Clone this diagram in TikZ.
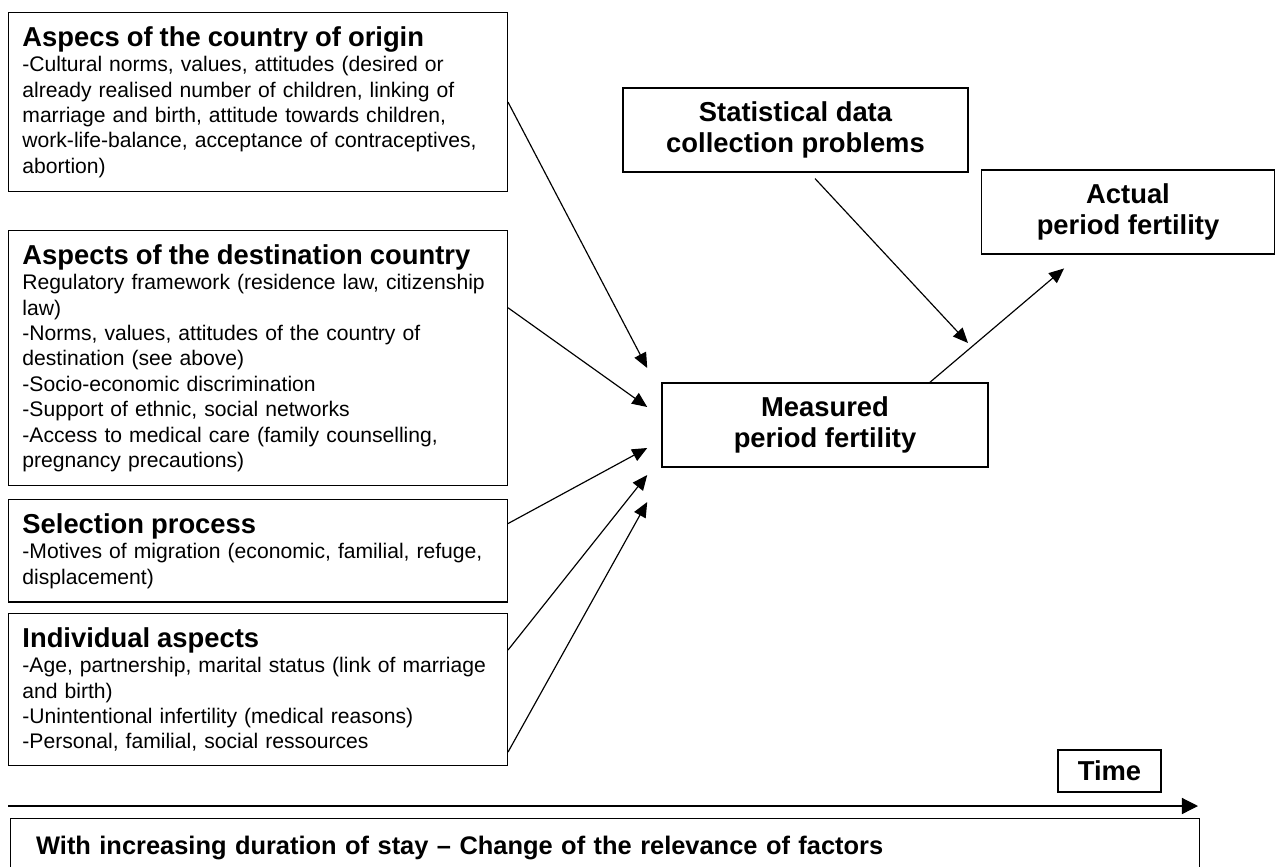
\documentclass[tikz,border=0pt]{standalone}
\usepackage{fontspec}
\setmainfont{Liberation Sans}
\usetikzlibrary{positioning,arrows.meta}

\tikzset{
  factor/.style={draw, line width=0.75pt, anchor=north west, align=left,
    text width=241pt, inner xsep=7pt, inner ysep=7pt,
    font=\fontsize{10.8}{13}\selectfont},
  result/.style={draw, line width=0.75pt, align=center,
    font=\fontsize{14}{16.1}\selectfont\bfseries},
  link/.style={-{Triangle[length=7.7pt,width=6.6pt]}, line width=0.6pt},
}
\newcommand{\factorhead}[1]{{\fontsize{14}{16.1}\selectfont\bfseries #1}\\}

\begin{document}
\begin{tikzpicture}[x=0.5115pt, y=-0.5115pt]
\useasboundingbox (0,0) rectangle (1278,866);
\clip (0,0) rectangle (1278,866);

% factors on the left
\node[factor] (origin) at (8,12) {\factorhead{Aspecs of the country of origin}%
-Cultural norms, values, attitudes (desired or\\
already realised number of children, linking of\\
marriage and birth, attitude towards children,\\
work-life-balance, acceptance of contraceptives,\\
abortion)};
\node[factor] (dest) at (8,230) {\factorhead{Aspects of the destination country}%
Regulatory framework (residence law, citizenship\\
law)\\
-Norms, values, attitudes of the country of\\
destination (see above)\\
-Socio-economic discrimination\\
-Support of ethnic, social networks\\
-Access to medical care (family counselling,\\
pregnancy precautions)};
\node[factor] (select) at (8,499) {\factorhead{Selection process}%
-Motives of migration (economic, familial, refuge,\\
displacement)};
\node[factor] (indiv) at (8,613) {\factorhead{Individual aspects}%
-Age, partnership, marital status (link of marriage\\
and birth)\\
-Unintentional infertility (medical reasons)\\
-Personal, familial, social ressources};

% fertility boxes
\node[result, minimum width=166.8pt, minimum height=43pt] (measured) at (825,425) {Measured\\period fertility};
\node[result, minimum width=176.5pt, minimum height=43pt] (stats) at (795.5,130) {Statistical data\\collection problems};
\node[result, minimum width=150pt, minimum height=43pt] (actual) at (1128,212) {Actual\\period fertility};

% arrow ends
\coordinate (in1) at ([shift={(-14,-57)}]measured.west);
\coordinate (in2) at ([shift={(-14,-18)}]measured.west);
\coordinate (in3) at ([shift={(-14,23)}]measured.west);
\coordinate (in4) at ([shift={(-14,50)}]measured.west);
\coordinate (in5) at ([shift={(-14,77)}]measured.west);
\coordinate (meet) at (968,343);

\draw[link] (origin.east) -- (in1);
\draw[link] ([yshift=25.8pt]dest.east) -- (in2);
\draw[link] ([yshift=14pt]select.east) -- (in3);
\draw[link] ([yshift=20.2pt]indiv.east) -- (in4);
\draw[link] ([yshift=-32pt]indiv.east) -- (in5);
\draw[link] ([xshift=10pt,yshift=-3pt]stats.south) -- (meet);
\draw[link] ([xshift=53.7pt]measured.north) -- ([xshift=-32.7pt,yshift=-7pt]actual.south);

% time line
\node[result, minimum width=52.7pt, minimum height=21.5pt] (time) at (1109.5,771) {Time};
\coordinate (tstart) at (8,806);
\coordinate (tend) at (1198,806);
\draw[-{Triangle[length=8.2pt,width=8.2pt]}, line width=0.6pt] (tstart) -- (tend);

\node[draw, line width=0.75pt, anchor=north west, align=left, text width=600pt,
  inner xsep=4pt, inner ysep=9pt, font=\fontsize{13}{15}\selectfont\bfseries]
  (stay) at (10,818) {\hspace*{9pt}With increasing duration of stay -- Change of the relevance of factors};
\end{tikzpicture}
\end{document}
